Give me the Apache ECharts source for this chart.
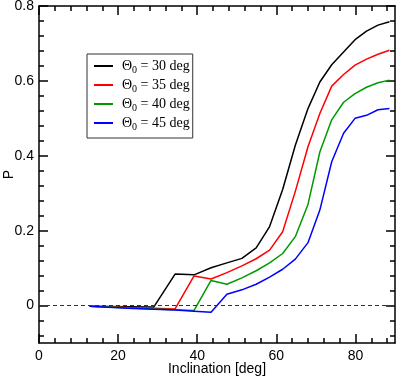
<!DOCTYPE html>
<html>
<head>
<meta charset="utf-8">
<script src="https://cdn.jsdelivr.net/npm/echarts@6/dist/echarts.min.js"></script>
<style>
  html, body { margin: 0; padding: 0; background: #fff; }
  #chart { width: 399px; height: 377px; }
</style>
</head>
<body>
<div id="chart"></div>
<script>
// inclination grid (deg), uniform in cos(i)
const incl = [12.8, 22.3, 29.0, 34.4, 39.2, 43.5, 47.5, 51.3, 54.9, 58.3,
              61.6, 64.8, 68.0, 71.0, 74.0, 77.0, 79.9, 82.8, 85.7, 88.6];

const theta0 = [30, 35, 40, 45];

const p30 = [-0.002, -0.003, -0.004, 0.084, 0.082, 0.101, 0.114, 0.126, 0.154, 0.211,
             0.310, 0.428, 0.526, 0.597, 0.643, 0.677, 0.710, 0.733, 0.749, 0.758];
const p35 = [-0.002, -0.005, -0.007, -0.009, 0.079, 0.071, 0.088, 0.106, 0.125, 0.148,
             0.197, 0.305, 0.424, 0.513, 0.586, 0.617, 0.642, 0.658, 0.671, 0.682];
const p40 = [-0.002, -0.006, -0.009, -0.011, -0.013, 0.067, 0.057, 0.074, 0.093, 0.114,
             0.139, 0.184, 0.270, 0.410, 0.496, 0.543, 0.566, 0.583, 0.595, 0.602];
const p45 = [-0.002, -0.007, -0.010, -0.012, -0.015, -0.018, 0.030, 0.042, 0.057, 0.076,
             0.097, 0.124, 0.168, 0.255, 0.384, 0.460, 0.500, 0.508, 0.523, 0.526];

const colors = ['#000000', '#ff0000', '#009900', '#0000ff'];

const xMajor = [0, 20, 40, 60, 80];
const xMinor = [4, 8, 12, 16, 24, 28, 32, 36, 44, 48, 52, 56, 64, 68, 72, 76, 84, 88];
const yMajor = [0, 0.2, 0.4, 0.6, 0.8];
const yMinor = [-0.08, -0.04, 0.04, 0.08, 0.12, 0.16, 0.24, 0.28, 0.32, 0.36,
                0.44, 0.48, 0.52, 0.56, 0.64, 0.68, 0.72, 0.76];

const sans = 'Liberation Sans';
const serif = 'Liberation Serif';

function axis(dir, pos, ticks, len, withLabels, withLine) {
  const isX = dir === 'x';
  return {
    type: 'value',
    position: pos,
    min: isX ? 0 : -0.1,
    max: isX ? 90 : 0.8,
    splitLine: { show: false },
    axisLine: { show: withLine, onZero: false, lineStyle: { color: '#000', width: 1.5 } },
    axisTick: { show: true, inside: true, length: len, customValues: ticks,
                lineStyle: { color: '#000', width: 1.5 } },
    axisLabel: { show: withLabels, customValues: ticks, color: '#000',
                 fontFamily: sans, fontSize: 14, margin: isX ? 6 : 5 }
  };
}

const xAxes = [
  axis('x', 'bottom', xMajor, 9, true, true),
  axis('x', 'bottom', xMinor, 5, false, false),
  axis('x', 'top', xMajor, 9, false, true),
  axis('x', 'top', xMinor, 5, false, false)
];
xAxes[0].name = 'Inclination [deg]';
xAxes[0].nameLocation = 'middle';
xAxes[0].nameGap = 19;
xAxes[0].nameMoveOverlap = false;
xAxes[0].nameTextStyle = { color: '#000', fontFamily: sans, fontSize: 14, verticalAlign: 'top' };

const yAxes = [
  axis('y', 'left', yMajor, 9, true, true),
  axis('y', 'left', yMinor, 5, false, false),
  axis('y', 'right', yMajor, 9, false, true),
  axis('y', 'right', yMinor, 5, false, false)
];
yAxes[0].name = 'P';
yAxes[0].nameLocation = 'middle';
yAxes[0].nameGap = 23;
yAxes[0].nameMoveOverlap = false;
yAxes[0].nameTextStyle = { color: '#000', fontFamily: sans, fontSize: 14 };

const curves = [p30, p35, p40, p45];

const series = curves.map((vals, i) => ({
  name: String(theta0[i]),
  type: 'line',
  data: incl.map((x, j) => [x, vals[j]]),
  symbol: 'none',
  legendIcon: 'rect',
  lineStyle: { color: colors[i], width: 1.5 },
  itemStyle: { color: colors[i] },
  animation: false
}));

series[0].markLine = {
  silent: true,
  symbol: 'none',
  label: { show: false },
  lineStyle: { color: '#333', type: [4, 3], width: 1 },
  data: [{ yAxis: 0 }],
  animation: false
};

const chart = echarts.init(document.getElementById('chart'));
chart.setOption({
  animation: false,
  grid: { left: 39, right: 4, top: 6, bottom: 34, outerBoundsMode: 'none', containLabel: false },
  xAxis: xAxes,
  yAxis: yAxes,
  legend: {
    left: 87,
    top: 54,
    orient: 'vertical',
    backgroundColor: '#fff',
    borderColor: '#333',
    borderWidth: 1,
    borderRadius: 0,
    padding: [5, 3, 6, 6],
    itemWidth: 19,
    itemHeight: 1.5,
    itemGap: 3,
    data: theta0.map(String),
    formatter: name => '{t|Θ}{s|0}{t| = ' + name + ' deg}',
    textStyle: {
      padding: [0, 0, 0, 4],
      rich: {
        t: { fontFamily: serif, fontSize: 14, color: '#000' },
        s: { fontFamily: serif, fontSize: 10, color: '#000', padding: [8, 0, 0, 0] }
      }
    }
  },
  series: series
});
</script>
</body>
</html>
